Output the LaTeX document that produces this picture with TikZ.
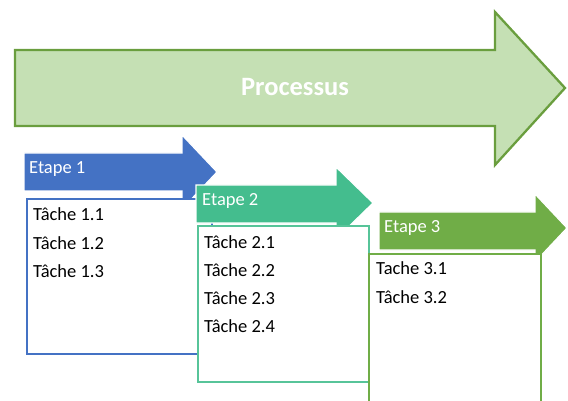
\documentclass[tikz,border=0pt]{standalone}
\usepackage{fontspec}
\setmainfont{Carlito}
\definecolor{bigfill}{HTML}{C5E0B4}
\definecolor{bigline}{HTML}{6A9E3E}
\definecolor{cblue}{HTML}{4472C4}
\definecolor{cteal}{HTML}{44BD8E}
\definecolor{cgreen}{HTML}{70AD47}
\begin{document}
\begin{tikzpicture}[x=1pt,y=-1pt,
  steparrow/.style={draw=white,line width=1.2pt,line join=miter},
  taskbox/.style={fill=white,line width=2.3pt},
  steplabel/.style={anchor=base west,inner sep=0pt,text=white,font=\fontsize{18.5}{21}\selectfont},
  tasklabel/.style={anchor=base west,inner sep=0pt,text=black,font=\fontsize{18.5}{21}\selectfont}]
\useasboundingbox (0,0) rectangle (568,401);
% big process arrow
\draw[fill=bigfill,draw=bigline,line width=2.3pt,line join=miter]
  (15,50) -- (495,50) -- (495,12) -- (565,88) -- (495,165) -- (495,126) -- (15,126) -- cycle;
\node[text=white,font=\fontsize{26.5}{30}\selectfont\bfseries,anchor=base,inner sep=0pt] (proc) at (295,96) {Processus};
% step 1
\draw[steparrow,fill=cblue] (24,153) -- (182,153) -- (182,135) -- (217,172) -- (182,209) -- (182,191) -- (24,191) -- cycle;
\node[steplabel] (e1) at (29,174) {Etape 1};
\draw[taskbox,draw=cblue] (27,199) rectangle (212,354);
\node[tasklabel] (t11) at (33,220) {Tâche 1.1};
\node[tasklabel] (t12) at (33,249) {Tâche 1.2};
\node[tasklabel] (t13) at (33,277) {Tâche 1.3};
% step 2
\draw[steparrow,fill=cteal] (196,185) -- (336,185) -- (336,167) -- (373,203) -- (336,239) -- (336,223) -- (196,223) -- cycle;
\node[steplabel] (e2) at (202,205) {Etape 2};
\draw[taskbox,draw=cteal!90!white] (198,226) rectangle (369,382);
\node[tasklabel] (t21) at (204,248) {Tâche 2.1};
\node[tasklabel] (t22) at (204,276) {Tâche 2.2};
\node[tasklabel] (t23) at (204,304) {Tâche 2.3};
\node[tasklabel] (t24) at (204,332) {Tâche 2.4};
% step 3
\draw[steparrow,fill=cgreen] (379,212) -- (535,212) -- (535,194) -- (567,228) -- (535,262) -- (535,250) -- (379,250) -- cycle;
\node[steplabel] (e3) at (384,233) {Etape 3};
\draw[taskbox,draw=cgreen] (369,254) rectangle (541,410);
\node[tasklabel] (t31) at (376,274) {Tache 3.1};
\node[tasklabel] (t32) at (376,303) {Tâche 3.2};
\end{tikzpicture}
\end{document}
